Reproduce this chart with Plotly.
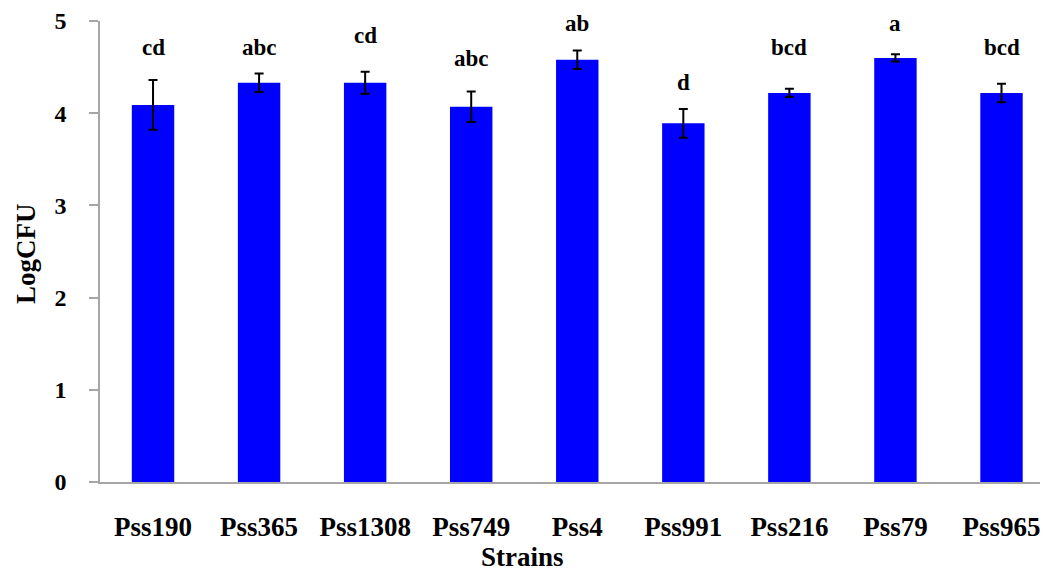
import plotly.graph_objects as go

# Bacterial population per strain (log CFU), with standard error and
# significance-group letters.
strains = ["Pss190", "Pss365", "Pss1308", "Pss749", "Pss4",
           "Pss991", "Pss216", "Pss79", "Pss965"]
log_cfu = [4.09, 4.33, 4.33, 4.07, 4.58, 3.89, 4.22, 4.60, 4.22]
std_err = [0.27, 0.10, 0.12, 0.165, 0.10, 0.155, 0.045, 0.04, 0.10]
groups = ["cd", "abc", "cd", "abc", "ab", "d", "bcd", "a", "bcd"]
# heights (LogCFU units) at which the group letters sit
group_y = [4.55, 4.55, 4.69, 4.44, 4.82, 4.18, 4.56, 4.82, 4.56]

FONT = "Liberation Serif, Times New Roman, Times, serif"
W, H = 1044, 572
ML, MR, MT, MB = 100, 4, 21, 90
plot_w = W - ML - MR
plot_h = H - MT - MB

fig = go.Figure()
fig.add_trace(go.Bar(
    x=list(range(len(strains))),
    y=log_cfu,
    width=0.4,
    marker=dict(color="#0000FF", line=dict(width=0)),
    error_y=dict(type="data", array=std_err, visible=True,
                 color="black", thickness=2, width=4.5),
    showlegend=False,
))

for i, (g, gy) in enumerate(zip(groups, group_y)):
    fig.add_annotation(x=i, y=gy, text=g, showarrow=False,
                       xanchor="center", yanchor="bottom",
                       font=dict(family=FONT, size=23, color="black",
                                 weight="bold"))

# axis titles
fig.add_annotation(xref="paper", yref="paper",
                   x=(522 - ML) / plot_w, y=-(557 - (H - MB)) / plot_h,
                   text="Strains", showarrow=False,
                   xanchor="center", yanchor="middle",
                   font=dict(family=FONT, size=27, color="black", weight="bold"))
fig.add_annotation(xref="paper", yref="paper",
                   x=-(ML - 26) / plot_w, y=(H - MB - 254) / plot_h,
                   text="LogCFU", showarrow=False, textangle=-90,
                   xanchor="center", yanchor="middle",
                   font=dict(family=FONT, size=27, color="black", weight="bold"))

fig.update_layout(
    width=W, height=H,
    margin=dict(l=ML, r=MR, t=MT, b=MB, pad=0),
    paper_bgcolor="white", plot_bgcolor="white",
    font=dict(family=FONT),
)
fig.update_xaxes(
    tickmode="array", tickvals=list(range(len(strains))), ticktext=strains,
    range=[-0.5, 8.363],
    showline=True, linecolor="#a6a6a6", linewidth=1.5,
    ticks="", showgrid=False, zeroline=False,
    ticklabelstandoff=20,
    tickfont=dict(family=FONT, size=27, color="black", weight="bold"),
)
fig.update_yaxes(
    range=[0, 5], dtick=1,
    showline=True, linecolor="#a6a6a6", linewidth=1.5,
    ticks="outside", ticklen=9, tickcolor="#a6a6a6", tickwidth=1.5,
    showgrid=False, zeroline=False,
    ticklabelstandoff=18,
    tickfont=dict(family=FONT, size=24, color="black", weight="bold"),
)

fig.write_html("out.html")
